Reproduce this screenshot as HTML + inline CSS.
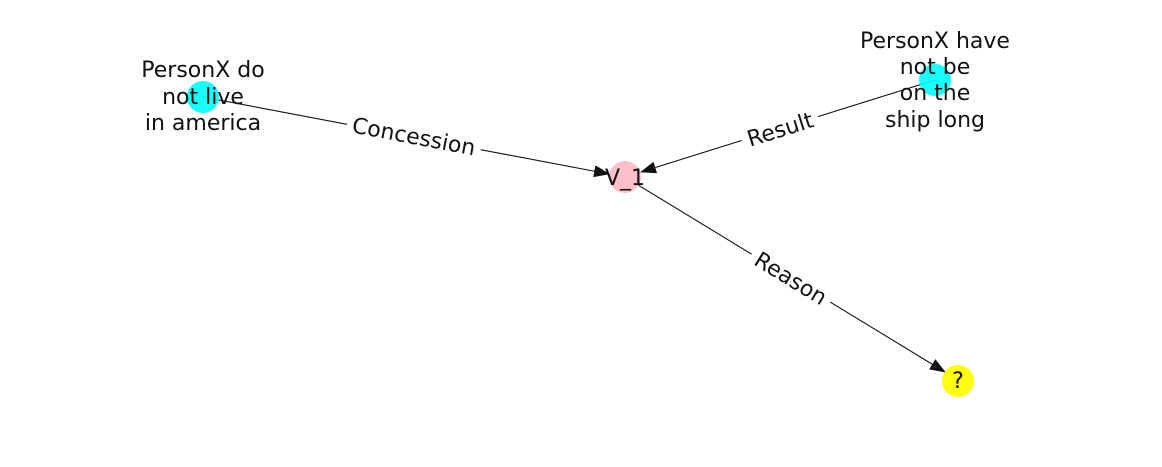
<!DOCTYPE html>
<html><head><meta charset="utf-8"><style>html,body{margin:0;padding:0;background:#fff}</style></head>
<body>
<svg width="1162" height="462" xmlns="http://www.w3.org/2000/svg" font-family="DejaVu Sans, sans-serif" font-size="22" fill="#111">
<defs><marker id="a" markerWidth="16" markerHeight="12" refX="15" refY="6" orient="auto" markerUnits="userSpaceOnUse"><path d="M0,0 L16,6 L0,12 z" fill="#111"/></marker></defs>
<g stroke="#111" stroke-width="1.1">
<line x1="203" y1="97" x2="609" y2="174" marker-end="url(#a)"/>
<line x1="935" y1="80" x2="641" y2="172" marker-end="url(#a)"/>
<line x1="625" y1="177" x2="945" y2="372" marker-end="url(#a)"/>
</g>
<circle cx="203" cy="97" r="16" fill="#00ffff" opacity="0.9"/>
<circle cx="935" cy="80" r="16" fill="#00ffff" opacity="0.9"/>
<circle cx="625" cy="177" r="16" fill="#ffc0cb"/>
<circle cx="958" cy="381" r="16" fill="#ffff00" opacity="0.95"/>
<g text-anchor="middle">
<text x="203" y="77">PersonX do</text>
<text x="203" y="104">not live</text>
<text x="203" y="130">in america</text>
<text x="935" y="48">PersonX have</text>
<text x="935" y="74">not be</text>
<text x="935" y="100">on the</text>
<text x="935" y="127">ship long</text>
<text x="625" y="185">V_1</text>
<text x="958" y="388">?</text>
<g transform="translate(414,136) rotate(10.7)"><rect x="-68" y="-15" width="136" height="30" fill="#fff"/><text y="8">Concession</text></g>
<g transform="translate(780,129) rotate(-17.4)"><rect x="-40" y="-15" width="80" height="30" fill="#fff"/><text y="8">Result</text></g>
<g transform="translate(791,278) rotate(31.5)"><rect x="-46" y="-15" width="92" height="30" fill="#fff"/><text y="8">Reason</text></g>
</g>
</svg>
</body></html>
